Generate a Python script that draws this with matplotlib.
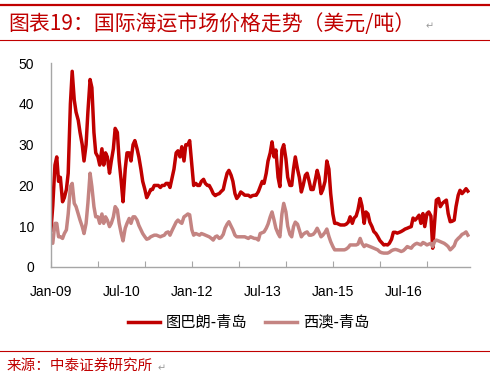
import numpy as np
import pandas as pd
import matplotlib
matplotlib.use("Agg")
import matplotlib.pyplot as plt
import matplotlib.dates as mdates

plt.rcParams['font.family'] = ['Liberation Sans', 'Noto Sans CJK SC', 'DejaVu Sans']

# fechas: cada medio mes desde ene-2009
fechas = pd.date_range("2009-01-01", periods=214, freq="SMS")

# 图巴朗-青岛 (USD/t)
tubarao = [9, 15, 25, 27, 21, 22, 16, 17, 19, 23,
           40, 48, 41, 38, 36, 33, 30, 26, 30, 38,
           46, 44, 33, 28, 27, 25, 29, 25, 28, 27,
           23, 26, 29, 34, 33, 26, 21, 16, 24, 28,
           28, 26, 30, 31, 29, 27, 24, 21, 19, 17,
           18, 19, 19, 20, 20, 20, 19.5, 20, 20, 20.5,
           20.5, 19.5, 22, 24, 28, 28.5, 27, 29.5, 26, 30,
           30, 31, 25, 20, 20.5, 20, 20, 21, 21.5, 20.5,
           20, 20, 19, 18, 17.5, 17.8, 18, 18.5, 19, 21,
           23, 23.7, 22.5, 21, 18, 16.8, 17.5, 18.4, 18, 17.6,
           17.6, 17.6, 17.2, 17.5, 17.6, 17.6, 18.5, 19.7, 21, 20.5,
           23, 26, 28, 30.7, 27, 28.7, 22, 19.7, 28.7, 30,
           26.5, 22, 20, 20, 24, 27, 24, 22, 18.4, 20,
           22.5, 23, 21, 19, 19, 21, 23.7, 22, 18, 19,
           21, 26, 24, 18, 13, 10.7, 10.7, 10.5, 10.3, 10.3,
           10.3, 10.5, 11, 12.3, 10.7, 12, 12.5, 14, 16.8, 15,
           10.7, 13.5, 13, 11, 9.9, 8.7, 8.2, 7.5, 6.5, 6,
           5.4, 5.5, 5.4, 5.8, 6.8, 8.5, 8.5, 8.3, 8.5, 8.7,
           9, 9.3, 9.5, 9.7, 9.9, 12, 11.5, 12, 12.7, 10.7,
           13.1, 9.9, 13.1, 13.5, 12.5, 4.6, 10.7, 16.4, 16.8, 14.8,
           15.6, 16, 16.4, 13.1, 11.1, 11.2, 11.5, 14.8, 17.6, 18.8,
           18, 18.5, 19.2, 18.6]

# 西澳-青岛 (USD/t)
xiao = [6.2, 5.8, 10.7, 10.7, 7.4, 7.4, 7, 8.2, 9.1, 13,
        19.7, 20.5, 15.6, 14.8, 13, 11.5, 9.9, 8.2, 10.7, 15.6,
        23, 19.7, 14.8, 12.3, 12.3, 10.7, 13, 10.7, 12.3, 11.5,
        9.9, 10.7, 12.3, 14.8, 14, 10.7, 8.2, 6.4, 9.5, 10.7,
        11.9, 10.7, 12.3, 12.3, 11.5, 10.2, 9.1, 8.2, 7.4, 6.8,
        7, 7.4, 7.6, 7.8, 7.8, 7.6, 7.4, 7.6, 7.8, 8.4,
        8.6, 7.8, 9, 9.9, 11, 11.5, 11, 10.7, 12.3, 12.6,
        13, 12.8, 9.1, 7.8, 8.2, 8, 7.8, 8.2, 8, 7.8,
        7.6, 7.4, 7, 6.6, 7.4, 7.6, 7, 7.2, 8, 9.5,
        10.5, 11.1, 10, 9.1, 7.8, 7.4, 7.4, 7.4, 7.4, 7.4,
        7.2, 7, 7.4, 7.2, 7, 7, 6.6, 8.2, 8.4, 8.6,
        9.5, 10.5, 12.3, 13.5, 11.5, 9.5, 8.2, 7.4, 13, 15.6,
        13.5, 10, 8, 7.4, 9.9, 11, 10.5, 9.1, 7.4, 8,
        8.4, 8.6, 7.8, 7.8, 8, 8.5, 9.5, 8.6, 7.4, 7.8,
        8.5, 9.3, 7.5, 6.2, 5, 4.2, 4.2, 4.2, 4.2, 4.2,
        4.2, 4.4, 4.8, 5.4, 5.4, 5.4, 5.4, 5.6, 7, 5.8,
        5, 5.4, 5.2, 5, 4.8, 4.6, 4.4, 4.2, 3.7, 3.5,
        3.4, 3.4, 3.4, 3.6, 4, 4.2, 4.3, 4.2, 4, 3.8,
        4, 4.4, 5, 4.8, 4.6, 5.2, 5.6, 5.8, 5.6, 5.4,
        6, 5.8, 5.4, 5.6, 5.8, 5, 6.2, 6.6, 6.4, 6.2,
        6, 5.8, 5.4, 5, 4.2, 4.6, 5.2, 6.4, 7, 7.4,
        8, 8.2, 8.6, 7.8]

etiquetas = ["Jan-09", "Jul-10", "Jan-12", "Jul-13", "Jan-15", "Jul-16"]
fechas_etiq = pd.to_datetime(["2009-01-01", "2010-07-01", "2012-01-01",
                              "2013-07-01", "2015-01-01", "2016-07-01"])

rojo = "#C00000"
rosa = "#C48482"
gris = "#A6A6A6"

fig = plt.figure(figsize=(4.9, 3.76), dpi=100)
ax = fig.add_axes([0.104, 0.29, 0.855, 0.542])

ax.plot(fechas, tubarao, color=rojo, lw=2.5, label="图巴朗-青岛")
ax.plot(fechas, xiao, color=rosa, lw=2.5, label="西澳-青岛")

ax.set_ylim(0, 50)
ax.set_yticks([0, 10, 20, 30, 40, 50])
ax.set_xlim(pd.Timestamp("2009-01-01"), pd.Timestamp("2017-12-01"))

# marcas cada año, etiquetas cada 18 meses
ax.xaxis.remove_overlapping_locs = False
ax.xaxis.set_major_locator(mdates.YearLocator())
ax.xaxis.set_major_formatter(plt.NullFormatter())
ax.set_xticks(fechas_etiq, minor=True)
ax.set_xticklabels(etiquetas, minor=True)
ax.tick_params(axis="x", which="major", direction="in", length=4, color=gris)
ax.tick_params(axis="x", which="minor", length=0, pad=13, labelsize=10)
ax.tick_params(axis="y", length=0, pad=12, labelsize=10)

for s in ["top", "right"]:
    ax.spines[s].set_visible(False)
for s in ["left", "bottom"]:
    ax.spines[s].set_color(gris)
    ax.spines[s].set_linewidth(1)

fig.legend(loc="center", bbox_to_anchor=(0.507, 0.142), ncol=2, frameon=False,
           handlelength=2.1, handletextpad=0.35, columnspacing=1.2,
           prop={"family": ["Noto Sans CJK SC", "DejaVu Sans"], "size": 11})

# titulo y fuente
fig.add_artist(plt.Line2D([0, 1], [1 - 5 / 376, 1 - 5 / 376], color=rojo, lw=1.6))
fig.add_artist(plt.Line2D([0, 1], [1 - 39.5 / 376, 1 - 39.5 / 376], color=rojo, lw=0.8))
fig.add_artist(plt.Line2D([0, 1], [1 - 351 / 376, 1 - 351 / 376], color=rojo, lw=0.8))

fig.text(8 / 490, 1 - 24 / 376, "图表19：国际海运市场价格走势（美元/吨）", color=rojo,
         fontsize=15, va="center", ha="left", style="italic", weight="medium",
         family=["Noto Sans CJK SC", "DejaVu Sans"])
fig.text(426 / 490, 1 - 26 / 376, "↵", color="#999999", fontsize=7, va="center",
         ha="left", family="DejaVu Sans")
fig.text(7 / 490, 1 - 366 / 376, "来源：中泰证券研究所", color=rojo, fontsize=10.5,
         va="center", ha="left", family=["Noto Sans CJK SC", "DejaVu Sans"])
fig.text(158 / 490, 1 - 368 / 376, "↵", color="#999999", fontsize=7, va="center",
         ha="left", family="DejaVu Sans")

fig.savefig("out.png", dpi=100)
